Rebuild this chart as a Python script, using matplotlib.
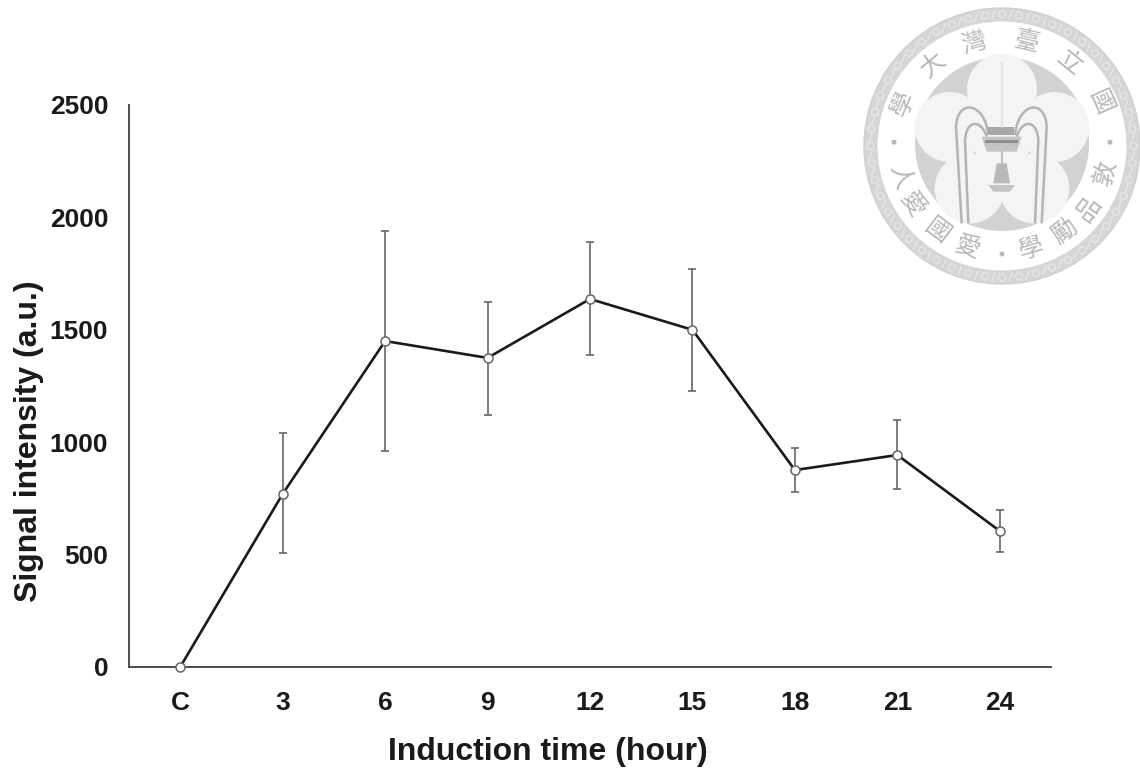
import numpy as np
import matplotlib
matplotlib.use('Agg')
import matplotlib.pyplot as plt
from matplotlib.patches import Circle, Rectangle, Polygon
from matplotlib.path import Path
from matplotlib.patches import PathPatch

# Chart data
categories = ['C', '3', '6', '9', '12', '15', '18', '21', '24']
signal = [0, 770, 1450, 1375, 1637, 1500, 876, 943, 605]
err_upper = [0, 1041, 1940, 1624, 1890, 1770, 974, 1099, 698]
err_lower = [0, 507, 961, 1121, 1388, 1228, 778, 792, 512]
y_ticks = [0, 500, 1000, 1500, 2000, 2500]

# Seal characters with their angle around the ring
seal_top = ['學', '大', '灣', '臺', '立', '國']
seal_top_angles = [157, 130, 105, 77, 51, 24]
seal_bottom = ['敦', '品', '勵', '學', '愛', '國', '愛', '人']
seal_bottom_angles = [-15, -36, -54, -74, -109, -127, -147, -163]

W, H = 1140, 771
plt.rcParams['font.family'] = ['Liberation Sans', 'DejaVu Sans']
fig = plt.figure(figsize=(W / 100, H / 100), dpi=100)

# Watermark layer in pixel coordinates
bg = fig.add_axes([0, 0, 1, 1], zorder=0)
bg.set_xlim(0, W)
bg.set_ylim(H, 0)
bg.axis('off')

cx, cy = 1002, 146
in_y = 144
RING = '#d6d6d6'
INNER = '#d2d2d2'
PETAL = '#f4f4f4'
LINE = '#b4b4b4'
CHAR = '#b8b8b8'
CJK = ['Noto Sans CJK TC', 'DejaVu Sans']


def zp(x, y):
    # seal zoom crop to figure pixels
    return 850 + x / 3, y / 3


bg.add_patch(Circle((cx, cy), 138, fc=RING, ec='#d0d0d0', lw=1))
bg.add_patch(Circle((cx, cy), 125, fc='white', ec='#d6d6d6', lw=0.8))
for a in np.arange(0, 360, 7.5):
    r = np.radians(a)
    px, py = cx + 131.5 * np.cos(r), cy - 131.5 * np.sin(r)
    bg.add_patch(Circle((px, py), 3.4, fc='none', ec='#e6e6e6', lw=1))
    r2 = np.radians(a + 3.75)
    qx, qy = cx + 131.5 * np.cos(r2), cy - 131.5 * np.sin(r2)
    bg.plot([qx - 1.5, qx + 1.5], [qy + 4, qy - 4], color='#e8e8e8', lw=0.9)

bg.add_patch(Circle((cx, in_y), 87, fc=INNER, ec='none'))
for a in [90, 162, 234, 306, 18]:
    r = np.radians(a)
    bg.add_patch(Circle((cx + 55 * np.cos(r), in_y - 55 * np.sin(r)), 35, fc=PETAL, ec='none'))
bg.add_patch(Circle((cx, in_y), 28, fc=PETAL, ec='none'))

# arches
for pts in [[(335, 670), (318, 380), (322, 295), (405, 305), (415, 405)],
            [(355, 670), (345, 420), (350, 355), (395, 360), (410, 410)],
            [(575, 670), (590, 380), (586, 295), (505, 305), (495, 405)],
            [(555, 670), (565, 420), (560, 355), (515, 360), (500, 410)]]:
    p = [zp(*q) for q in pts]
    codes = [Path.MOVETO, Path.LINETO, Path.CURVE4, Path.CURVE4, Path.CURVE4]
    bg.add_patch(PathPatch(Path(p, codes), fc='none', ec=LINE, lw=1.8))

# fountain cap and bell
bg.add_patch(Polygon([zp(395, 410), zp(515, 410), zp(500, 455), zp(410, 455)], fc='#c4c4c4', ec='none'))
bg.add_patch(Rectangle(zp(415, 380), 26, 8, fc='#a8a8a8', ec='none'))
bg.add_patch(Rectangle(zp(405, 420), 33, 3, fc='#8e8e8e', ec='none'))
bg.add_patch(Polygon([zp(440, 490), zp(470, 490), zp(480, 550), zp(430, 550)], fc='#b8b8b8', ec='none'))
bg.add_patch(Polygon([zp(415, 555), zp(495, 555), zp(480, 575), zp(430, 575)], fc='#c4c4c4', ec='none'))
bg.plot(*zip(zp(455, 455), zp(455, 490)), color=LINE, lw=1.2)
bg.plot(*zip(zp(455, 190), zp(455, 380)), color='#e0e0e0', lw=1.2)

# seal text and dots
for ch, a in zip(seal_top, seal_top_angles):
    r = np.radians(a)
    bg.text(cx + 107 * np.cos(r), cy - 107 * np.sin(r), ch, rotation=a - 90, ha='center', va='center',
            fontsize=18, color=CHAR, family=CJK, rotation_mode='anchor')
for ch, a in zip(seal_bottom, seal_bottom_angles):
    r = np.radians(a)
    bg.text(cx + 107 * np.cos(r), cy - 107 * np.sin(r), ch, rotation=a + 90, ha='center', va='center',
            fontsize=18, color=CHAR, family=CJK, rotation_mode='anchor')
for a in [2, 178, -90]:
    r = np.radians(a)
    bg.add_patch(Circle((cx + 108 * np.cos(r), cy - 108 * np.sin(r)), 2.5, fc=CHAR, ec='none'))

# Main chart
left, right, top, bottom = 129, 1051, 105, 667
ax = fig.add_axes([left / W, 1 - bottom / H, (right - left) / W, (bottom - top) / H], zorder=1)
ax.patch.set_alpha(0)

x = np.arange(len(categories))
sig = np.array(signal)
yerr = [sig - np.array(err_lower), np.array(err_upper) - sig]
ax.errorbar(x, sig, yerr=yerr, fmt='none', ecolor='#666666', elinewidth=1.2, capsize=3, capthick=1.2, zorder=2)
ax.plot(x, sig, color='#1a1a1a', lw=1.9, marker='o', ms=6.5, mfc='white', mec='#666666', mew=1.1,
        clip_on=False, zorder=3)

ax.set_xlim(-0.5, len(categories) - 0.5)
ax.set_ylim(0, 2500)
ax.set_xticks(x)
ax.set_xticklabels(categories)
ax.set_yticks(y_ticks)
for s in ['top', 'right']:
    ax.spines[s].set_visible(False)
for s in ['left', 'bottom']:
    ax.spines[s].set_color('#4d4d4d')
    ax.spines[s].set_linewidth(1.4)
ax.tick_params(axis='both', length=0, labelsize=19, labelcolor='#1a1a1a')
ax.tick_params(axis='x', pad=17)
ax.tick_params(axis='y', pad=15)
for lab in ax.get_xticklabels() + ax.get_yticklabels():
    lab.set_fontweight('bold')
ax.set_xlabel('Induction time (hour)', fontsize=23, fontweight='bold', color='#1a1a1a')
ax.set_ylabel('Signal intensity (a.u.)', fontsize=23, fontweight='bold', color='#1a1a1a')
ax.xaxis.set_label_coords(0.4544, -0.125)
ax.yaxis.set_label_coords(-0.092, 0.402)

fig.savefig('out.png', dpi=100)
